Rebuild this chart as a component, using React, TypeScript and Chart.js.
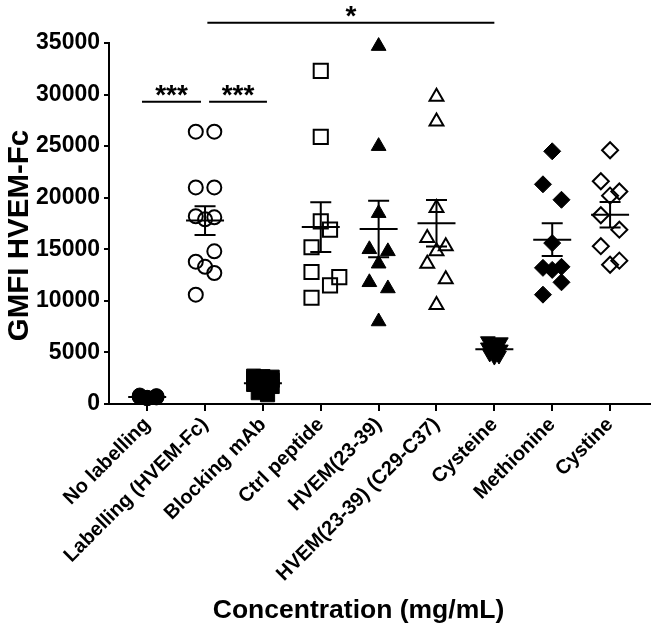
import { useEffect, useRef } from 'react';
import { Chart, registerables } from 'chart.js';

Chart.register(...registerables);

// ---------- data ----------
const CATEGORIES = [
  'No labelling',
  'Labelling (HVEM-Fc)',
  'Blocking mAb',
  'Ctrl peptide',
  'HVEM(23-39)',
  'HVEM(23-39) (C29-C37)',
  'Cysteine',
  'Methionine',
  'Cystine',
];

const NO_LABELLING = [820, 760, 700, 640, 600, 680, 720, 560];
const LABELLING = [26400, 26400, 21000, 21000, 18200, 17900, 18100, 14800, 13800, 13300, 12700, 10600];
const BLOCKING_MAB = [2700, 2650, 2600, 2500, 2300, 2100, 1900, 1700, 1400, 1100, 900];
const CTRL_PEPTIDE = [32300, 25900, 17700, 16900, 15200, 12800, 12300, 11500, 10300];
const HVEM_23_39 = [34700, 25000, 18500, 15000, 14800, 13600, 11800, 11200, 8000];
const HVEM_C29_C37 = [29800, 27400, 19000, 16100, 15300, 14800, 13600, 12100, 9600];
const CYSTEINE = [6100, 6000, 5800, 5500, 5300, 5100, 4900, 4700, 4600];
const METHIONINE = [24500, 21300, 19800, 15600, 13200, 13000, 13300, 11800, 10600];
const CYSTINE = [24600, 21600, 20600, 20200, 18300, 16900, 15300, 13500, 13900];

// beeswarm lane of each point (-1 left, 0 centre, 1 right)
const LANES_NO_LABELLING = [-0.8, 1, -0.8, 1, 0, -0.8, 1, 0];
const LANES_LABELLING = [-1, 1, -1, 1, -1, 0, 1, 1, -1, 0, 1, -1];
const LANES_BLOCKING = [-1, 0, 1, -1, 1, 0, -1, 1, 0, -0.5, 0.5];
const LANES_CTRL = [0, 0, 0, 1, -1, -1, 2, 1, -1];
const LANES_HVEM = [0, 0, 0, -1, 1, 0, -1, 1, 0];
const LANES_HVEM_CC = [0, 0, 0, -1, 1, 0, -1, 1, 0];
const LANES_CYSTEINE = [-0.7, 0.7, 0, -0.7, 0.7, 0, -0.5, 0.5, 0];
const LANES_METHIONINE = [0, -1, 1, 0, -1, 0, 1, 1, -1];
const LANES_CYSTINE = [0, -1, 1, 0, -1, 1, -1, 0, 1];

const MEANS = [690, 17780, 2000, 17150, 16960, 17520, 5300, 15930, 18350];
const SEMS = [40, 1400, 200, 2420, 2740, 2250, 180, 1590, 1240];

const Y_TICKS = [0, 5000, 10000, 15000, 20000, 25000, 30000, 35000];

const Y_TITLE = 'GMFI HVEM-Fc';
const X_TITLE = 'Concentration (mg/mL)';

const GROUP_VALUES = [NO_LABELLING, LABELLING, BLOCKING_MAB, CTRL_PEPTIDE, HVEM_23_39, HVEM_C29_C37, CYSTEINE, METHIONINE, CYSTINE];
const GROUP_LANES = [LANES_NO_LABELLING, LANES_LABELLING, LANES_BLOCKING, LANES_CTRL, LANES_HVEM, LANES_HVEM_CC, LANES_CYSTEINE, LANES_METHIONINE, LANES_CYSTINE];

// significance brackets: from/to in category units, level in data units
const BRACKETS = [
  { from: -0.09, to: 0.93, level: 29300, label: '***' },
  { from: 1.07, to: 2.07, level: 29300, label: '***' },
  { from: 1.04, to: 6.0, level: 36970, label: '*' },
];

// ---------- styles ----------
const FONT = "'Liberation Sans', Arial, Helvetica, sans-serif";
const LANE_WIDTH = 0.16;

const MARKERS: any[] = [
  { pointStyle: 'circle', radius: 7.5, filled: true, rotation: 0 },
  { pointStyle: 'circle', radius: 7, filled: false, rotation: 0 },
  { pointStyle: 'rect', radius: 10, filled: true, rotation: 0 },
  { pointStyle: 'rect', radius: 10, filled: false, rotation: 0 },
  { pointStyle: 'triangle', radius: 8.5, filled: true, rotation: 0 },
  { pointStyle: 'triangle', radius: 8, filled: false, rotation: 0 },
  { pointStyle: 'triangle', radius: 8.5, filled: true, rotation: 180 },
  { pointStyle: 'rectRot', radius: 8.5, filled: true, rotation: 0 },
  { pointStyle: 'rectRot', radius: 8, filled: false, rotation: 0 },
];

const overlayPlugin = {
  id: 'overlay',
  afterDatasetsDraw(chart: any) {
    const { ctx, scales } = chart;
    const x = scales.x;
    const y = scales.y;
    ctx.save();
    ctx.strokeStyle = '#000';
    ctx.lineWidth = 2;
    ctx.lineCap = 'butt';
    MEANS.forEach((m: number, i: number) => {
      const cx = x.getPixelForValue(i);
      const my = y.getPixelForValue(m);
      const top = y.getPixelForValue(m + SEMS[i]);
      const bot = y.getPixelForValue(m - SEMS[i]);
      ctx.beginPath();
      ctx.moveTo(cx - 19, my);
      ctx.lineTo(cx + 19, my);
      ctx.moveTo(cx, top);
      ctx.lineTo(cx, bot);
      ctx.moveTo(cx - 10.5, top);
      ctx.lineTo(cx + 10.5, top);
      ctx.moveTo(cx - 10.5, bot);
      ctx.lineTo(cx + 10.5, bot);
      ctx.stroke();
    });
    ctx.restore();
  },
  afterDraw(chart: any) {
    const { ctx, scales, chartArea } = chart;
    const x = scales.x;
    const y = scales.y;
    ctx.save();
    ctx.strokeStyle = '#000';
    ctx.fillStyle = '#000';
    ctx.lineWidth = 2;
    BRACKETS.forEach((b) => {
      const x1 = x.getPixelForValue(b.from);
      const x2 = x.getPixelForValue(b.to);
      const yy = y.getPixelForValue(b.level);
      ctx.beginPath();
      ctx.moveTo(x1, yy);
      ctx.lineTo(x2, yy);
      ctx.stroke();
      ctx.font = `bold 28px ${FONT}`;
      ctx.textAlign = 'center';
      ctx.textBaseline = 'alphabetic';
      ctx.fillText(b.label, (x1 + x2) / 2, yy + 2);
    });
    // axis titles
    ctx.font = `bold 26.5px ${FONT}`;
    ctx.textAlign = 'center';
    ctx.textBaseline = 'alphabetic';
    ctx.fillText(X_TITLE, (chartArea.left + chartArea.right) / 2 - 21, 618);
    ctx.save();
    ctx.translate(20, (chartArea.top + chartArea.bottom) / 2 + 12);
    ctx.rotate(-Math.PI / 2);
    ctx.font = `bold 29.5px ${FONT}`;
    ctx.textBaseline = 'middle';
    ctx.fillText(Y_TITLE, 0, 0);
    ctx.restore();
    ctx.restore();
  },
};

export default function App() {
  const canvasRef = useRef<HTMLCanvasElement | null>(null);

  useEffect(() => {
    if (!canvasRef.current) return;
    const datasets = GROUP_VALUES.map((vals, i) => {
      const mk = MARKERS[i];
      return {
        label: CATEGORIES[i],
        data: vals.map((v, j) => ({ x: i + GROUP_LANES[i][j] * LANE_WIDTH, y: v })),
        pointStyle: mk.pointStyle,
        pointRadius: mk.radius,
        pointRotation: mk.rotation,
        pointBackgroundColor: mk.filled ? '#000' : 'rgba(0,0,0,0)',
        pointBorderColor: '#000',
        pointBorderWidth: mk.filled ? 1 : 2,
        showLine: false,
        clip: false as any,
      };
    });

    const chart = new Chart(canvasRef.current, {
      type: 'scatter',
      data: { datasets },
      options: {
        animation: false,
        responsive: true,
        maintainAspectRatio: false,
        layout: { autoPadding: false, padding: { left: 0, top: 43, right: 2, bottom: 0 } },
        plugins: {
          legend: { display: false },
          tooltip: { enabled: false },
        },
        scales: {
          x: {
            type: 'linear',
            min: -0.66,
            max: 8.69,
            afterBuildTicks: (s: any) => {
              s.ticks = CATEGORIES.map((_, i) => ({ value: i }));
            },
            afterFit: (s: any) => {
              s.height = 222;
              s.paddingLeft = 0;
              s.paddingRight = 0;
            },
            grid: { drawOnChartArea: false, drawTicks: true, tickLength: 7, color: '#000', lineWidth: 2 },
            border: { color: '#000', width: 2 },
            ticks: {
              autoSkip: false,
              maxRotation: 45,
              minRotation: 45,
              padding: 2,
              color: '#000',
              font: { family: FONT, size: 20, weight: 'bold' },
              callback: (v: any) => CATEGORIES[v as number] ?? '',
            },
          },
          y: {
            type: 'linear',
            min: 0,
            max: 35000,
            afterBuildTicks: (s: any) => {
              s.ticks = Y_TICKS.map((v) => ({ value: v }));
            },
            afterFit: (s: any) => {
              s.width = 109;
              s.paddingTop = 0;
              s.paddingBottom = 0;
            },
            grid: { drawOnChartArea: false, drawTicks: true, tickLength: 5, color: '#000', lineWidth: 2 },
            border: { color: '#000', width: 2 },
            ticks: {
              padding: 4,
              color: '#000',
              font: { family: FONT, size: 23, weight: 'bold' },
              callback: (v: any) => String(v),
            },
          },
        },
      } as any,
      plugins: [overlayPlugin],
    });
    return () => chart.destroy();
  }, []);

  return (
    <div style={{ position: 'fixed', left: 0, top: 0, width: 652, height: 626, background: '#fff' }}>
      <canvas ref={canvasRef} />
    </div>
  );
}
